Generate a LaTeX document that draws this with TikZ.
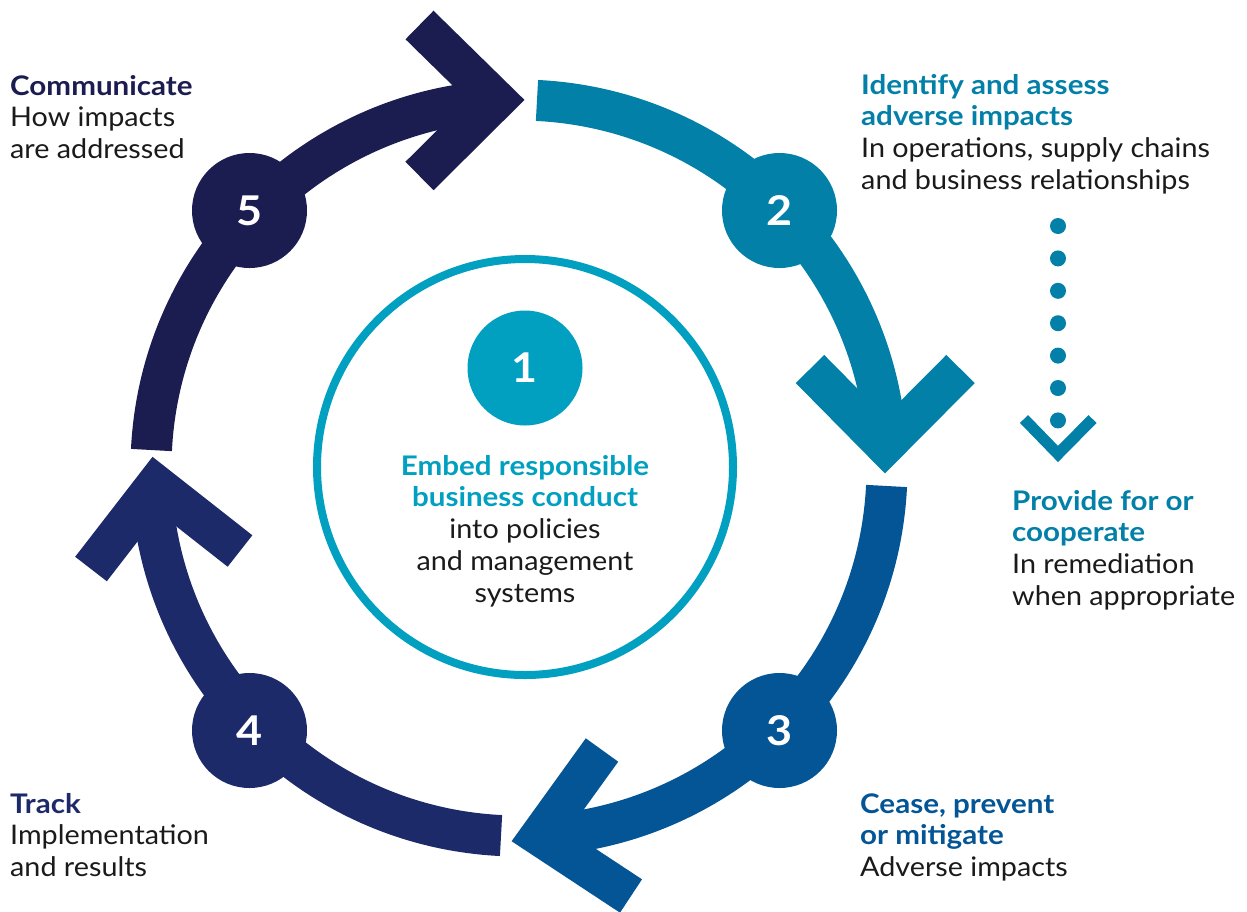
\documentclass[tikz,border=0pt]{standalone}
\usepackage{fontspec}
\setmainfont{Lato}[UprightFeatures={FakeStretch=1.065},BoldFeatures={FakeStretch=1.095}]
\definecolor{cfive}{HTML}{1B1C50}
\definecolor{ctwo}{HTML}{0280A8}
\definecolor{cthree}{HTML}{045595}
\definecolor{cfour}{HTML}{1D2A6A}
\definecolor{cone}{HTML}{01A0C0}
\definecolor{ink}{HTML}{1A1A1A}
\tikzset{
  band/.style={line width=41},
  numdot/.style={circle, minimum size=115, inner sep=0, text=white,
    font=\fontsize{41}{41}\selectfont\bfseries},
  txt/.style={anchor=north west, align=left, inner sep=0, text=ink,
    font=\fontsize{27}{31.7}\selectfont},
  chevron/.style={line width=40, miter limit=10}
}
\def\lead{\rule{0pt}{21pt}}
\def\hd#1#2{\textcolor{#1}{\bfseries #2}}
\begin{document}
\begin{tikzpicture}[x=1pt,y=-1pt]
  \useasboundingbox (0,0) rectangle (1247,911);
  \coordinate (ctr) at (519,468);
  % the cycle
  \draw[band,cfive] (ctr) ++(182.8:368) arc[start angle=182.8, end angle=266.4, radius=368];
  \draw[band,ctwo] (ctr) ++(272.8:368) arc[start angle=272.8, end angle=356.4, radius=368];
  \draw[band,cthree] (ctr) ++(2.8:368) arc[start angle=2.8, end angle=86.7, radius=368];
  \draw[band,cfour] (ctr) ++(92.8:368) arc[start angle=92.8, end angle=177.3, radius=368];
  \def\chev#1#2#3#4{
    \draw[chevron,#1] #2 -- #3 -- #4;
  }
  \chev{cfive}{(419.5,25)}{(496,100)}{(419.5,176)}
  \chev{ctwo}{(810,369)}{(885,445)}{(960.5,369)}
  \chev{cthree}{(602,750)}{(540,836)}{(631,896)}
  \chev{cfour}{(91,569)}{(156,485)}{(240,551)}
  \node[numdot,fill=cfive] (n5) at (249.5,210.5) {5};
  \node[numdot,fill=ctwo] (n2) at (779.5,210.5) {2};
  \node[numdot,fill=cthree] (n3) at (779.5,730.5) {3};
  \node[numdot,fill=cfour] (n4) at (249.5,730.5) {4};
  % centre
  \draw[cone,line width=8] (525,467) circle[radius=208];
  \node[numdot,fill=cone] (n1) at (525,368) {1};
  \node[txt,anchor=north,align=center] (embed) at (525,454)
    {\lead\hd{cone}{Embed responsible}\\\hd{cone}{business conduct}\\into policies\\and management\\systems};
  % remediation, dotted
  \foreach \k in {0,...,6}
    \fill[ctwo] (1058,226+32.4*\k) circle[radius=8];
  \draw[ctwo,line width=11.3,miter limit=10] (1024,419) -- (1058,454) -- (1092.5,419);
  % labels
  \node[txt] (comm) at (10,74)
    {\lead\hd{cfive}{Communicate}\\How impacts\\are addressed};
  \node[txt] (ident) at (861,73)
    {\lead\hd{ctwo}{Identify and assess}\\\hd{ctwo}{adverse impacts}\\In operations, supply chains\\and business relationships};
  \node[txt] (remed) at (1012,489)
    {\lead\hd{ctwo}{Provide for or}\\\hd{ctwo}{cooperate}\\In remediation\\when appropriate};
  \node[txt] (cease) at (860,792)
    {\lead\hd{cthree}{Cease, prevent}\\\hd{cthree}{or mitigate}\\Adverse impacts};
  \node[txt] (track) at (10,792)
    {\lead\hd{cfour}{Track}\\Implementation\\and results};
\end{tikzpicture}
\end{document}
